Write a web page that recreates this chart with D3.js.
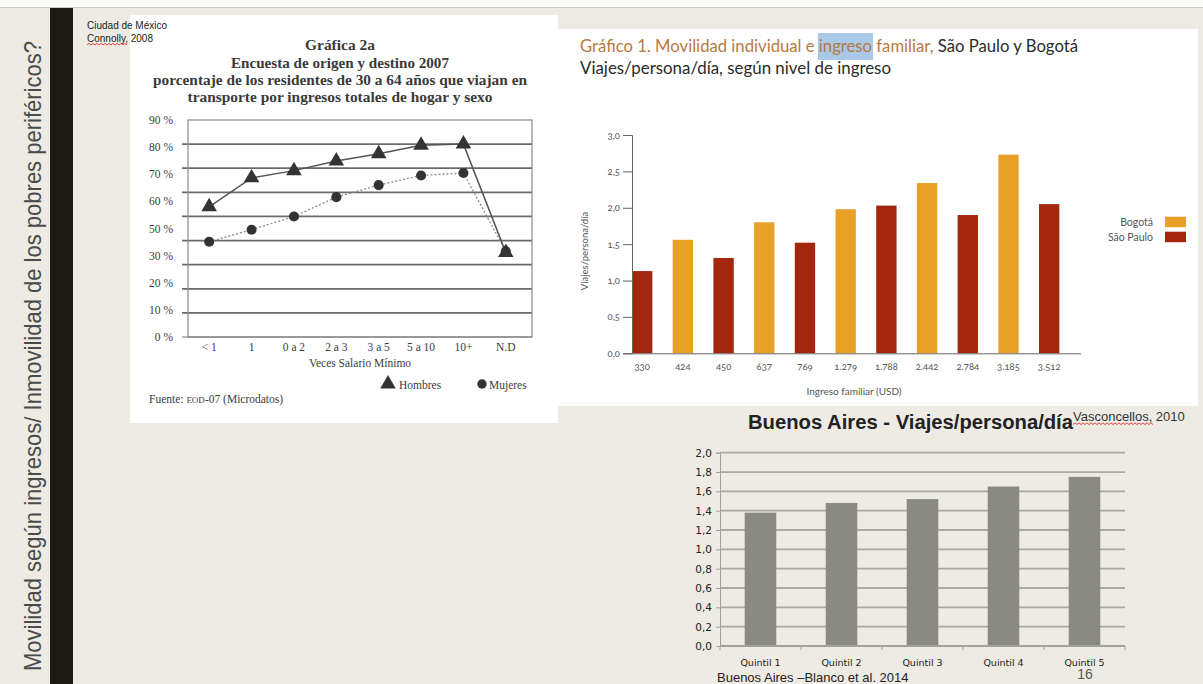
<!DOCTYPE html>
<html><head><meta charset="utf-8">
<script src="https://cdn.jsdelivr.net/npm/d3@7"></script>
<style>
body{margin:0;background:#eeebe4;}
svg{display:block;}
</style>
</head><body>
<svg id="s" width="1203" height="684"></svg>
<script>
// ---------- DATA ----------
// Ciudad de México (Connolly, 2008)
const mxCategories = ["< 1","1","0 a 2","2 a 3","3 a 5","5 a 10","10+","N.D"];
const mxHombres = [54, 66, 69, 73, 76, 79.5, 80, 35];
const mxMujeres = [39.5, 44.5, 50, 58, 63, 67, 68, 35.5];
const mxGridValues = [0,10,20,30,40,50,60,70,80,90];
const mxYTickLabels = ["90 %","80 %","70 %","60 %","50 %","30 %","20 %","10 %","0 %"];
const mxLegend = ["Hombres","Mujeres"];

// São Paulo y Bogotá (Vasconcellos, 2010)
const spIncome = ["330","424","450","637","769","1.279","1.788","2.442","2.784","3.185","3.512"];
const spCity = ["São Paulo","Bogotá","São Paulo","Bogotá","São Paulo","Bogotá","São Paulo","Bogotá","São Paulo","Bogotá","São Paulo"];
const spTrips = [1.13, 1.56, 1.31, 1.80, 1.52, 1.98, 2.03, 2.34, 1.90, 2.73, 2.05];
const spYTicks = [0, 0.5, 1.0, 1.5, 2.0, 2.5, 3.0];
const spLegend = ["Bogotá","São Paulo"];

// Buenos Aires (Blanco et al. 2014)
const baQuintiles = ["Quintil 1","Quintil 2","Quintil 3","Quintil 4","Quintil 5"];
const baTrips = [1.38, 1.48, 1.52, 1.65, 1.75];
const baYTicks = [0,0.2,0.4,0.6,0.8,1.0,1.2,1.4,1.6,1.8,2.0];

// ---------- HELPERS ----------
const svg = d3.select("#s");
const comma1 = d => d3.format(".1f")(d).replace(".", ",");
function wavy(x0, x1, y) {
  let p = `M${x0},${y}`;
  for (let x = x0; x < x1; x += 4) p += ` l2,-1.6 l2,1.6`;
  return p;
}

// ---------- SLIDE BACKGROUND ----------
svg.append("rect").attr("x",0).attr("y",0).attr("width",1203).attr("height",684).attr("fill","#eeebe4");
svg.append("rect").attr("x",0).attr("y",0).attr("width",1203).attr("height",7).attr("fill","#fbfbfa");
svg.append("line").attr("x1",0).attr("x2",1203).attr("y1",7.5).attr("y2",7.5).attr("stroke","#cfcdc8").attr("stroke-width",1);
svg.append("rect").attr("x",50).attr("y",8).attr("width",23).attr("height",676).attr("fill","#1b1b14");
svg.append("text")
  .attr("transform","translate(41,671) rotate(-90)")
  .attr("font-family","'Liberation Sans Narrow','Liberation Sans',Arial,sans-serif")
  .attr("font-size",24).attr("fill","#4a4a4a")
  .attr("textLength",630).attr("lengthAdjust","spacingAndGlyphs")
  .text("Movilidad según ingresos/ Inmovilidad de los pobres periféricos?");

// panels
svg.append("rect").attr("x",130).attr("y",15).attr("width",428).attr("height",408).attr("fill","#ffffff");
svg.append("rect").attr("x",556).attr("y",29).attr("width",642).attr("height",377).attr("fill","#ffffff");

// ---------- LEFT CHART: Ciudad de México ----------
const serif = "'Liberation Serif','Times New Roman',serif";
svg.append("text").attr("x",87).attr("y",29).attr("font-family","'Liberation Sans',Arial,sans-serif")
  .attr("font-size",10).attr("fill","#222").text("Ciudad de México");
svg.append("text").attr("x",87).attr("y",42).attr("font-family","'Liberation Sans',Arial,sans-serif")
  .attr("font-size",10).attr("fill","#222").text("Connolly, 2008");
svg.append("path").attr("d",wavy(87,126,45)).attr("fill","none").attr("stroke","#e03030").attr("stroke-width",0.9);

const mxTitle = [
  {t:"Gráfica 2a", y:50, w:70},
  {t:"Encuesta de origen y destino 2007", y:68, w:218},
  {t:"porcentaje de los residentes de 30 a 64 años que viajan en", y:85, w:374},
  {t:"transporte por ingresos totales de hogar y sexo", y:101.5, w:305}
];
svg.append("g").selectAll("text").data(mxTitle).join("text")
  .attr("x",340).attr("y",d=>d.y).attr("text-anchor","middle")
  .attr("font-family",serif).attr("font-weight","bold").attr("font-size",15).attr("fill","#3a3a3a")
  .attr("textLength",d=>d.w).attr("lengthAdjust","spacingAndGlyphs").text(d=>d.t);

const xL = d3.scaleBand().domain(mxCategories).range([188,527]);
const yL = d3.scaleLinear().domain([0,90]).range([337,120]);
const yLab = d3.scalePoint().domain(mxYTickLabels).range([120,337]);
const gL = svg.append("g");
gL.selectAll("line.grid").data(mxGridValues.filter(v=>v>0 && v<90)).join("line")
  .attr("x1",182).attr("x2",532).attr("y1",d=>yL(d)).attr("y2",d=>yL(d))
  .attr("stroke","#6a6a6a").attr("stroke-width",1.8);
gL.append("rect").attr("x",188).attr("y",yL(90)).attr("width",344).attr("height",yL(0)-yL(90))
  .attr("fill","none").attr("stroke","#8a8a8a").attr("stroke-width",1.2);
gL.append("line").attr("x1",182).attr("x2",532).attr("y1",yL(0)).attr("y2",yL(0)).attr("stroke","#7a7a7a").attr("stroke-width",1.2);
gL.selectAll("text.yl").data(mxYTickLabels).join("text")
  .attr("x",173).attr("y",d=>yLab(d)+4).attr("text-anchor","end")
  .attr("font-family",serif).attr("font-size",11.5).attr("fill","#3c3c3c").text(d=>d);
gL.selectAll("text.xl").data(mxCategories).join("text")
  .attr("x",d=>xL(d)+xL.bandwidth()/2).attr("y",351).attr("text-anchor","middle")
  .attr("font-family",serif).attr("font-size",11.5).attr("fill","#3c3c3c").text(d=>d);
gL.append("text").attr("x",360).attr("y",367).attr("text-anchor","middle")
  .attr("font-family",serif).attr("font-size",11.5).attr("fill","#3c3c3c").text("Veces Salario Mínimo");
const lineH = d3.line().x((d,i)=>xL(mxCategories[i])+xL.bandwidth()/2).y(d=>yL(d));
gL.append("path").attr("d",lineH(mxMujeres)).attr("fill","none").attr("stroke","#8a8a8a")
  .attr("stroke-width",1.3).attr("stroke-dasharray","2,2");
gL.append("path").attr("d",lineH(mxHombres)).attr("fill","none").attr("stroke","#555")
  .attr("stroke-width",1.5);
gL.selectAll("path.m").data(mxMujeres).join("path")
  .attr("transform",(d,i)=>`translate(${xL(mxCategories[i])+xL.bandwidth()/2},${yL(d)})`)
  .attr("d",d3.symbol(d3.symbolCircle,80)).attr("fill","#333");
gL.selectAll("path.h").data(mxHombres).join("path")
  .attr("transform",(d,i)=>`translate(${xL(mxCategories[i])+xL.bandwidth()/2},${yL(d)})`)
  .attr("d",d3.symbol(d3.symbolTriangle,105)).attr("fill","#333");
gL.append("path").attr("transform","translate(388,384)").attr("d",d3.symbol(d3.symbolTriangle,105)).attr("fill","#333");
gL.append("text").attr("x",399).attr("y",389).attr("font-family",serif).attr("font-size",11.5).attr("fill","#3c3c3c").text(mxLegend[0]);
gL.append("path").attr("transform","translate(482,384)").attr("d",d3.symbol(d3.symbolCircle,70)).attr("fill","#333");
gL.append("text").attr("x",489).attr("y",389).attr("font-family",serif).attr("font-size",11.5).attr("fill","#3c3c3c").text(mxLegend[1]);
const fu = gL.append("text").attr("x",149).attr("y",403).attr("font-family",serif).attr("font-size",11.5).attr("fill","#3c3c3c");
fu.append("tspan").text("Fuente: ");
fu.append("tspan").attr("font-size",9).text("EOD");
fu.append("tspan").text("-07 (Microdatos)");

// ---------- RIGHT CHART: São Paulo y Bogotá ----------
const sans2 = "Lato,'Open Sans','Noto Sans',sans-serif";
const hl = svg.append("rect").attr("fill","#a9c9e6");
const t1 = svg.append("text").attr("x",580).attr("y",52).attr("font-family",sans2).attr("font-size",17)
  .attr("textLength",498).attr("lengthAdjust","spacingAndGlyphs");
const pre = "Gráfico 1. Movilidad individual e ";
t1.append("tspan").attr("fill","#b87a43").text(pre);
t1.append("tspan").attr("fill","#b87a43").text("ingreso");
t1.append("tspan").attr("fill","#b87a43").text(" familiar,");
t1.append("tspan").attr("fill","#2b2b2b").text(" São Paulo y Bogotá");
try {
  const node = t1.node();
  const s0 = node.getStartPositionOfChar(pre.length).x;
  const s1 = node.getEndPositionOfChar(pre.length+6).x;
  hl.attr("x",s0-1).attr("y",33).attr("width",s1-s0+2).attr("height",27);
} catch(e) { hl.attr("x",813).attr("y",33).attr("width",56).attr("height",27); }
svg.append("text").attr("x",580).attr("y",74).attr("font-family",sans2).attr("font-size",17)
  .attr("fill","#2b2b2b").attr("textLength",311).attr("lengthAdjust","spacingAndGlyphs")
  .text("Viajes/persona/día, según nivel de ingreso");

const xR = d3.scaleBand().domain(spIncome).range([632,1079.7]).paddingInner(0.5).paddingOuter(0.25).align(0);
const yR = d3.scaleLinear().domain([0,3]).range([353.3,135]);
const colR = d3.scaleOrdinal().domain(spLegend).range(["#e8a027","#a3260e"]);
const gR = svg.append("g");
gR.selectAll("rect.b").data(spTrips).join("rect")
  .attr("x",(d,i)=>xR(spIncome[i])).attr("width",xR.bandwidth())
  .attr("y",d=>yR(d)).attr("height",d=>yR(0)-yR(d))
  .attr("fill",(d,i)=>colR(spCity[i]));
const axR = gR.append("g").attr("transform","translate(632,0)")
  .call(d3.axisLeft(yR).tickValues(spYTicks).tickSize(9).tickPadding(3).tickFormat(comma1));
axR.select(".domain").attr("stroke","#666");
axR.selectAll(".tick line").attr("stroke","#666");
axR.selectAll("text").attr("font-family",sans2).attr("font-size",9.5).attr("fill","#555")
  .style("font-variant-numeric","oldstyle-nums");
const axRx = gR.append("g").attr("transform",`translate(0,${yR(0)})`)
  .call(d3.axisBottom(xR).tickSize(0).tickPadding(10).tickSizeOuter(0));
axRx.select(".domain").attr("stroke","#666").attr("d","M632,0.5H1081");
axRx.selectAll("text").attr("font-family",sans2).attr("font-size",9.5).attr("fill","#555")
  .style("font-variant-numeric","oldstyle-nums");
gR.append("text").attr("x",854).attr("y",395).attr("text-anchor","middle")
  .attr("font-family",sans2).attr("font-size",10).attr("fill","#555").text("Ingreso familiar (USD)");
gR.append("text").attr("transform","translate(588,251) rotate(-90)").attr("text-anchor","middle")
  .attr("font-family",sans2).attr("font-size",9.5).attr("fill","#555").text("Viajes/persona/día");
const lg = gR.selectAll("g.lg").data(spLegend).join("g").attr("transform",(d,i)=>`translate(0,${216.7+i*15})`);
lg.append("rect").attr("x",1165).attr("y",0).attr("width",21).attr("height",10.5).attr("fill",d=>colR(d));
lg.append("text").attr("x",1153).attr("y",9.5).attr("text-anchor","end")
  .attr("font-family",sans2).attr("font-size",10.5).attr("fill","#555").text(d=>d);

// ---------- BOTTOM CHART: Buenos Aires ----------
const sans3 = "'DejaVu Sans',Verdana,sans-serif";
svg.append("text").attr("x",748).attr("y",429).attr("font-family","'Liberation Sans',Arial,sans-serif")
  .attr("font-weight","bold").attr("font-size",20).attr("fill","#222")
  .attr("textLength",325).attr("lengthAdjust","spacingAndGlyphs").text("Buenos Aires - Viajes/persona/día");
svg.append("text").attr("x",1073).attr("y",421).attr("font-family","'Liberation Sans',Arial,sans-serif")
  .attr("font-size",13).attr("fill","#333").text("Vasconcellos, 2010");
svg.append("path").attr("d",wavy(1073,1153,424.5)).attr("fill","none").attr("stroke","#e03030").attr("stroke-width",0.9);

const xB = d3.scaleBand().domain(baQuintiles).range([720,1125]).paddingInner(0.61).paddingOuter(0.305);
const yB = d3.scaleLinear().domain([0,2]).range([646,452.7]);
const gB = svg.append("g");
gB.selectAll("line.g").data(baYTicks.filter(v=>v>0)).join("line")
  .attr("x1",720).attr("x2",1125).attr("y1",d=>yB(d)).attr("y2",d=>yB(d))
  .attr("stroke","#a9a9a6").attr("stroke-width",1.8);
gB.selectAll("rect.b").data(baTrips).join("rect")
  .attr("x",(d,i)=>xB(baQuintiles[i])).attr("width",xB.bandwidth())
  .attr("y",d=>yB(d)).attr("height",d=>yB(0)-yB(d)).attr("fill","#8a8a85");
const axB = gB.append("g").attr("transform","translate(720,0)")
  .call(d3.axisLeft(yB).tickValues(baYTicks).tickSize(4).tickPadding(4).tickFormat(comma1));
axB.select(".domain").attr("stroke","#a0a09c");
axB.selectAll(".tick line").attr("stroke","#a0a09c");
axB.selectAll("text").attr("font-family",sans3).attr("font-size",10.5).attr("fill","#222");
const axBx = gB.append("g").attr("transform",`translate(0,${yB(0)})`)
  .call(d3.axisBottom(xB).tickSize(0).tickPadding(13).tickSizeOuter(0));
axBx.select(".domain").attr("stroke","#a0a09c").attr("stroke-width",1.8).attr("d","M720,0H1125");
axBx.selectAll("text").attr("font-family",sans3).attr("font-size",9.5).attr("fill","#222");
gB.selectAll("line.xt").data(d3.range(baQuintiles.length+1)).join("line")
  .attr("x1",d=>720+d*xB.step()).attr("x2",d=>720+d*xB.step())
  .attr("y1",yB(0)).attr("y2",yB(0)+4).attr("stroke","#a0a09c");
svg.append("text").attr("x",717).attr("y",682).attr("font-family","'Liberation Sans',Arial,sans-serif")
  .attr("font-size",13).attr("fill","#222").text("Buenos Aires –Blanco et al. 2014");
svg.append("text").attr("x",1085).attr("y",679).attr("text-anchor","middle")
  .attr("font-family","'Liberation Sans',Arial,sans-serif").attr("font-size",14).attr("fill","#555").text("16");
</script>
</body></html>
